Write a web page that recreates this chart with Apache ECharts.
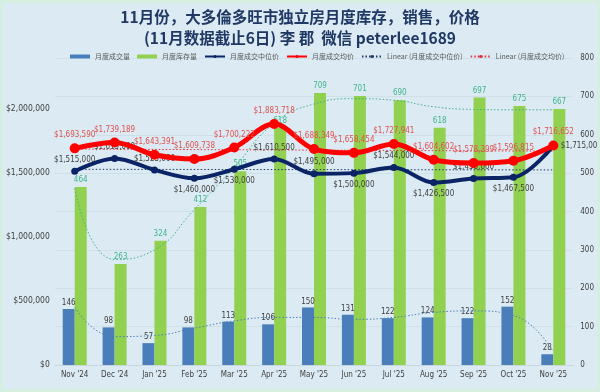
<!DOCTYPE html>
<html><head><meta charset="utf-8">
<script src="https://cdn.jsdelivr.net/npm/echarts@6/dist/echarts.min.js"></script>
<style>
html,body{margin:0;padding:0;background:#d4eedf;}
#c{position:absolute;left:3px;top:3px;width:594px;height:386px;background:#dcebf3;}
</style></head><body>
<div id="c"></div>
<script>
const categories = ["Nov '24","Dec '24","Jan '25","Feb '25","Mar '25","Apr '25","May '25","Jun '25","Jul '25","Aug '25","Sep '25","Oct '25","Nov '25"];
const salesVolume = [146, 98, 57, 98, 113, 106, 150, 131, 122, 124, 122, 152, 28];
const inventory = [464, 263, 324, 412, 505, 618, 709, 701, 690, 618, 697, 675, 667];
const medianPrice = [1515000, 1615000, 1525000, 1460000, 1530000, 1610500, 1495000, 1500000, 1544000, 1426500, 1458000, 1467500, 1715000];
const averagePrice = [1693590, 1739189, 1643391, 1609738, 1700222, 1883718, 1688349, 1658454, 1727941, 1604602, 1578399, 1596815, 1716652];
// trendlines
const medianTrend = [1530000, null, null, null, null, null, null, null, null, null, null, null, 1525000];
const averageTrend = [1688000, null, null, null, null, null, null, null, null, null, null, null, 1672000];
const inventoryTrend = [460, 275, 300, 405, 515, 630, 680, 694, 690, 673, 666, 665, 665];
const salesTrend = [150, 74, 77, 96, 115, 124, 124, 119, 124, 137, 141, 129, 34];

const F = '"Liberation Sans Narrow","DejaVu Sans Condensed","Liberation Sans",sans-serif';
const money = v => '$' + Number(v).toLocaleString('en-US');
const medPos = ['top','top','top','bottom','bottom','top','top','bottom','top','bottom','top','bottom','right'];

const chart = echarts.init(document.getElementById('c'));
chart.setOption({
  animation: false,
  title: {
    text: '11月份，大多倫多旺市独立房月度库存，销售，价格\n(11月数据截止6日) 李 郡  微信 peterlee1689',
    left: 'center', top: -1,
    textStyle: {fontFamily: '"Noto Sans CJK SC",sans-serif', fontSize: 15.5, fontWeight: 'bold', color: '#1f3864', lineHeight: 21}
  },
  legend: {
    top: 45, left: 62, itemGap: 7, itemWidth: 20, itemHeight: 4,
    textStyle: {fontFamily: '"Noto Sans CJK SC",sans-serif', fontSize: 7, color: '#595959'},
    data: [
      {name: '月度成交量', icon: 'rect'},
      {name: '月度库存量', icon: 'rect'},
      {name: '月度成交中位价'},
      {name: '月度成交均价'},
      {name: 'Linear (月度成交中位价)'},
      {name: 'Linear (月度成交均价)'}
    ]
  },
  grid: {left: 50, right: 23, top: 55, bottom: 24},
  xAxis: {
    type: 'category', data: categories,
    axisLine: {lineStyle: {color: '#c8d6de'}}, axisTick: {show: false},
    axisLabel: {fontFamily: F, fontSize: 8, color: '#404040', margin: 6}
  },
  yAxis: [
    {type: 'value', min: 0, max: 2400000, interval: 500000,
     axisLine: {show: false}, axisTick: {show: false}, splitLine: {show: false},
     axisLabel: {fontFamily: F, fontSize: 8.5, color: '#404040', formatter: money, margin: 5, showMaxLabel: false}},
    {type: 'value', min: 0, max: 800, interval: 100,
     axisLine: {show: false}, axisTick: {show: false},
     splitLine: {show: true, lineStyle: {color: 'rgba(190,210,222,0.45)'}},
     axisLabel: {fontFamily: F, fontSize: 8, color: '#404040', margin: 7}}
  ],
  series: [
    {name: '月度成交量', type: 'bar', yAxisIndex: 1, data: salesVolume, barWidth: 12, barGap: '0%',
     itemStyle: {color: '#4a7ebb'},
     label: {show: true, position: 'top', fontFamily: F, fontSize: 8, color: '#404040', distance: 2}},
    {name: '月度库存量', type: 'bar', yAxisIndex: 1, data: inventory, barWidth: 12,
     itemStyle: {color: '#92d050'},
     label: {show: true, position: 'top', fontFamily: F, fontSize: 8, color: '#3fb48a', distance: 3}},
    {name: 'inventoryTrend', type: 'line', yAxisIndex: 1, data: inventoryTrend, smooth: 0.5, symbol: 'none',
     lineStyle: {color: '#3fae8a', width: 1, type: [1.5, 2]}, z: 3},
    {name: 'salesTrend', type: 'line', yAxisIndex: 1, data: salesTrend, smooth: 0.5, symbol: 'none',
     lineStyle: {color: '#4a7ebb', width: 1, type: [1.5, 2]}, z: 3},
    {name: 'Linear (月度成交中位价)', type: 'line', yAxisIndex: 0, data: medianTrend, connectNulls: true, symbol: 'none',
     lineStyle: {color: '#1f3864', width: 1, type: [1.5, 2]}, itemStyle: {color: '#1f3864'}, z: 4},
    {name: 'Linear (月度成交均价)', type: 'line', yAxisIndex: 0, data: averageTrend, connectNulls: true, symbol: 'none',
     lineStyle: {color: '#e0303a', width: 1, type: [1.5, 2]}, itemStyle: {color: '#e0303a'}, z: 4},
    {name: '月度成交中位价', type: 'line', yAxisIndex: 0, smooth: 0.35,
     data: medianPrice.map((v, i) => ({value: v, label: {position: medPos[i]}})),
     symbol: 'circle', symbolSize: 7, lineStyle: {color: '#0a2466', width: 4}, itemStyle: {color: '#0a2466'},
     label: {show: true, formatter: p => money(p.value), fontFamily: F, fontSize: 8, color: '#404040', distance: 4}, z: 5},
    {name: '月度成交均价', type: 'line', yAxisIndex: 0, smooth: 0.35, data: averagePrice,
     symbol: 'circle', symbolSize: 10, lineStyle: {color: '#ff0000', width: 5}, itemStyle: {color: '#ff0000'},
     label: {show: true, position: 'top', formatter: p => money(p.value), fontFamily: F, fontSize: 8, color: '#e05050', distance: 4}, z: 6}
  ]
});
</script>
</body></html>
